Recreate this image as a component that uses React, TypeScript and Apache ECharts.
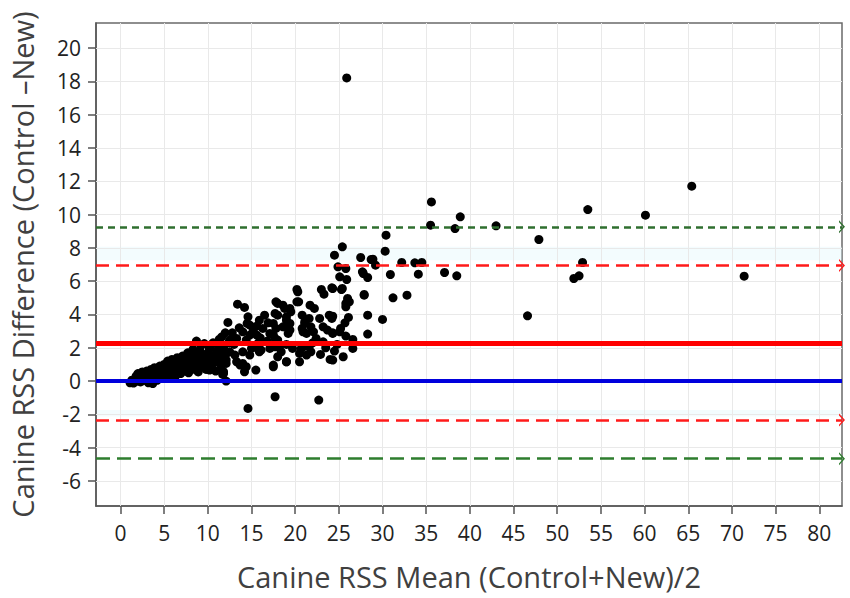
import React, { useEffect, useRef } from "react";
import * as echarts from "echarts";

// Tick labels
const xTicks = [0, 5, 10, 15, 20, 25, 30, 35, 40, 45, 50, 55, 60, 65, 70, 75, 80];
const yTicks = [-6, -4, -2, 0, 2, 4, 6, 8, 10, 12, 14, 16, 18, 20];

// Reference lines (Bland-Altman)
const upperCI = 9.26;
const upperLoA = 6.94;
const meanDiff = 2.26;
const zeroLine = 0;
const lowerLoA = -2.34;
const lowerCI = -4.66;

// Points: [mean, difference]
const denseCluster: [number, number][] = [
  [1.1, -0.1], [1.3, 0.05], [1.5, -0.12], [1.6, 0.1], [1.8, 0.3], [1.9, 0.0], [2.0, 0.45], [2.1, 0.15],
  [2.3, -0.05], [2.4, 0.35], [2.5, 0.55], [2.6, 0.2], [2.8, 0.05], [2.9, 0.4], [3.0, 0.6], [3.1, 0.25],
  [3.2, -0.1], [3.4, 0.45], [3.5, 0.7], [3.6, 0.1], [3.7, -0.15], [3.8, 0.35], [3.9, 0.8], [4.0, 0.55],
  [4.1, 0.2], [4.2, 0.05], [4.4, 0.65], [4.5, 0.9], [4.6, 0.35], [4.7, 0.15], [4.8, 0.75], [5.0, 1.0],
  [5.0, 0.5], [5.2, 0.25], [5.3, 0.8], [5.4, 1.2], [5.5, 0.6], [5.6, 0.35], [5.8, 0.95], [5.9, 1.3],
  [6.0, 0.5], [6.1, 0.75], [6.2, 1.1], [6.3, 0.3], [6.4, 0.9], [6.5, 1.4], [6.6, 0.6], [6.8, 1.15],
  [6.9, 0.45], [7.0, 0.85], [7.1, 1.5], [7.2, 1.0], [7.3, 0.6], [7.5, 1.3], [7.6, 0.8], [7.7, 1.7],
  [7.8, 0.5], [7.9, 1.1], [8.0, 1.45], [8.1, 0.9], [8.3, 1.9], [8.4, 1.2], [8.5, 0.7], [8.6, 1.6],
  [8.7, 2.4], [8.8, 1.0], [8.9, 0.55], [9.0, 1.35], [9.1, 1.8], [9.2, 2.1], [9.3, 0.9], [9.5, 1.5],
  [9.6, 2.25], [9.7, 1.1], [9.8, 0.7], [10.0, 1.7], [10.1, 1.3], [10.2, 2.0], [10.3, 0.9], [10.5, 1.5],
  [10.6, 2.3], [10.7, 1.1], [10.9, 0.6], [11.0, 1.8], [11.1, 2.2], [11.2, 1.35], [11.3, 2.5], [11.5, 0.95],
  [11.6, 1.6], [11.7, 0.4], [11.8, 2.05], [12.0, 1.2], [12.0, 2.9], [12.1, 0.0], [12.2, 1.7], [12.4, 2.3],
];

const midCluster: [number, number][] = [
  [12.3, 3.52], [12.1, 1.26], [11.8, 0.56], [12.5, 1.76], [13.4, 4.62], [14.2, 4.42], [14.6, 3.86], [14.5, 3.46],
  [15.9, 3.66], [16.5, 3.96], [15.6, 3.3], [15.2, 3.02], [15.6, 2.76], [16.3, 3.16], [14.8, 3.36], [18.0, 3.96],
  [19.0, 3.66], [18.8, 3.26], [19.4, 3.06], [17.8, 3.16], [17.5, 2.76], [18.0, 2.46], [20.8, 3.96], [21.1, 3.56],
  [20.8, 3.16], [21.3, 2.86], [21.6, 3.76], [21.8, 3.26], [22.1, 2.96], [22.8, 3.76], [23.2, 3.26], [23.9, 3.96],
  [24.2, 3.76], [23.7, 3.06], [24.3, 2.86], [25.2, 3.16], [22.4, 2.56], [23.2, 2.36], [20.9, 2.06], [21.8, 1.76],
  [21.3, 1.56], [20.5, 1.66], [24.0, 1.3], [17.5, 0.96], [18.0, 1.46], [19.0, 1.16], [18.4, 1.76], [17.7, 2.06],
  [15.9, 1.76], [15.4, 2.06], [14.8, 1.56], [14.2, 0.56], [14.0, 1.06], [17.7, -0.94], [22.7, -1.14], [14.6, -1.64],
  [17.8, 4.76], [18.6, 4.56], [19.4, 4.36], [20.2, 4.76], [21.7, 4.56], [22.2, 4.36], [20.2, 5.5], [23.0, 5.5],
  [24.2, 5.6], [23.3, 5.22], [20.3, 5.36], [18.0, 4.66], [18.8, 4.36], [17.7, 4.06], [19.0, 3.86], [19.5, 4.16],
  [20.4, 4.76], [17.5, 3.46], [18.6, 3.26], [19.4, 3.46], [19.2, 2.86], [17.1, 2.86], [17.7, 2.56], [21.1, 3.46],
  [20.9, 2.96], [14.0, 2.96], [14.8, 2.76], [14.4, 2.46], [11.6, 2.66], [12.5, 2.46], [13.3, 2.56], [10.2, 1.96],
  [11.4, 1.86], [12.1, 1.66], [13.1, 1.56], [14.0, 1.76], [15.0, 1.96], [16.1, 1.86], [17.1, 1.96], [18.2, 2.06],
  [19.7, 1.96], [20.7, 1.96], [21.6, 2.06], [9.9, 1.46], [11.0, 1.26], [12.1, 1.06], [13.3, 1.16], [14.4, 0.86],
  [15.5, 0.66], [17.5, 0.86], [19.0, 1.16], [20.5, 1.16], [10.2, 0.66], [11.8, 0.46], [13.7, 0.96], [11.6, 0.66],
  [13.0, 2.2], [15.8, 2.3], [16.8, 2.4], [19.0, 2.2], [22.0, 2.3], [23.5, 2.0], [24.8, 2.2], [25.8, 2.7],
  [24.5, 1.8], [22.9, 1.6], [12.8, 2.9], [16.0, 2.6], [13.6, 3.2], [16.9, 3.5],
];

const upperCluster: [number, number][] = [
  [25.4, 8.06], [24.5, 7.56], [27.5, 7.42], [28.9, 7.32], [29.2, 6.96], [32.2, 7.12], [33.7, 7.1], [34.5, 7.12],
  [24.9, 6.86], [25.8, 6.76], [30.9, 6.4], [34.1, 6.42], [37.1, 6.52], [38.5, 6.32], [27.8, 6.46], [28.3, 6.22],
  [25.1, 6.26], [25.9, 6.1], [24.3, 5.56], [25.4, 5.56], [27.9, 5.2], [31.2, 5.0], [32.8, 5.16], [26.0, 4.96],
  [25.8, 4.66], [26.2, 4.76], [25.8, 4.46], [24.3, 3.9], [26.1, 3.82], [28.3, 3.96], [30.0, 3.7], [25.7, 3.5],
  [25.1, 2.96], [28.3, 2.82], [24.3, 2.9], [26.6, 2.5], [26.6, 1.96], [24.3, 1.26], [25.5, 1.46], [30.4, 8.76],
  [30.3, 7.8], [28.7, 7.3], [27.7, 6.56], [25.3, 5.5], [27.9, 5.16],
];

const farPoints: [number, number][] = [
  [35.6, 10.76], [38.9, 9.86], [35.5, 9.36], [38.3, 9.16], [43.0, 9.32], [46.6, 3.92], [47.9, 8.5],
  [53.5, 10.3], [52.9, 7.12], [52.5, 6.32], [51.9, 6.16], [60.1, 9.96], [65.4, 11.7], [71.4, 6.3], [25.9, 18.2],
];

const FONT = "'Open Sans', 'Noto Sans', sans-serif";
const chevron = "path://M0,10 L5,0 L10,10 L8.6,10 L5,3.2 L1.4,10 Z";

export default function App() {
  const ref = useRef<HTMLDivElement>(null);
  useEffect(() => {
    if (!ref.current) return;
    const chart = echarts.init(ref.current, null, { renderer: "svg" });
    const points = [...denseCluster, ...midCluster, ...upperCluster, ...farPoints];

    const refLine = (y: number, color: string, width: number, type: any) => ({
      yAxis: y,
      lineStyle: { color, width, type },
      itemStyle: { color },
    });

    chart.setOption({
      animation: false,
      backgroundColor: "#ffffff",
      grid: { left: 92, top: 23, width: 750, height: 483, show: true, borderColor: "#6a6a6a", borderWidth: 1.5 },
      xAxis: {
        type: "value",
        min: -2.8,
        max: 82.6,
        name: "Canine RSS Mean (Control+New)/2",
        nameLocation: "middle",
        nameGap: 56,
        nameTextStyle: { fontSize: 29, color: "#404040", fontFamily: FONT },
        axisLine: { show: true, onZero: false, lineStyle: { color: "#555", width: 1.5 } },
        axisTick: { show: true, customValues: xTicks, length: 8, lineStyle: { color: "#555", width: 1.5 } },
        axisLabel: { customValues: xTicks, fontSize: 21, color: "#222", fontFamily: FONT, margin: 16 },
        splitLine: { show: false },
      },
      yAxis: {
        type: "value",
        min: -7.5,
        max: 21.5,
        name: "Canine RSS Difference (Control \u2013New)",
        nameLocation: "middle",
        nameGap: 59,
        nameTextStyle: { fontSize: 29, color: "#404040", fontFamily: FONT },
        axisLine: { show: true, onZero: false, lineStyle: { color: "#555", width: 1.5 } },
        axisTick: { show: true, customValues: yTicks, length: 8, lineStyle: { color: "#555", width: 1.5 } },
        axisLabel: { customValues: yTicks, fontSize: 21, color: "#222", fontFamily: FONT, margin: 15 },
        splitLine: { show: false },
      },
      series: [
        {
          type: "scatter",
          data: [],
          z: 1,
          silent: true,
          markArea: {
            silent: true,
            z: 0,
            itemStyle: { color: "rgba(220,246,252,0.35)" },
            data: [
              [{ yAxis: 7.26 }, { yAxis: 8.06 }],
              [{ yAxis: -2.12 }, { yAxis: -1.74 }],
            ],
          },
          markLine: {
            silent: true,
            z: 1,
            symbol: ["none", "none"],
            label: { show: false },
            lineStyle: { color: "#e9e9e9", width: 1, type: "solid" },
            data: [...xTicks.map((v) => ({ xAxis: v })), ...yTicks.map((v) => ({ yAxis: v }))],
          },
        },
        {
          type: "scatter",
          data: points,
          z: 2,
          symbolSize: 9,
          itemStyle: { color: "#000000", opacity: 1, borderWidth: 0 },
        },
        {
          type: "scatter",
          data: [],
          z: 3,
          silent: true,
          markLine: {
            silent: true,
            z: 5,
            symbol: ["none", chevron],
            symbolSize: [13, 6],
            label: { show: false },
            data: [
              refLine(upperCI, "#2f6f2f", 2.5, [7, 5]),
              refLine(upperLoA, "#ff1a1a", 2.5, [13, 7]),
              refLine(lowerLoA, "#ff1a1a", 2.5, [13, 7]),
              refLine(lowerCI, "#2e7d2e", 2.5, [14, 7]),
            ],
          },
        },
        {
          type: "scatter",
          data: [],
          z: 3,
          silent: true,
          markLine: {
            silent: true,
            z: 5,
            symbol: ["none", "none"],
            label: { show: false },
            data: [
              refLine(meanDiff, "#ff0000", 5, "solid"),
              refLine(zeroLine, "#0000dd", 4, "solid"),
            ],
          },
        },
      ],
    });
    return () => chart.dispose();
  }, []);
  return <div ref={ref} style={{ position: "fixed", left: 0, top: 0, width: 850, height: 598 }} />;
}
